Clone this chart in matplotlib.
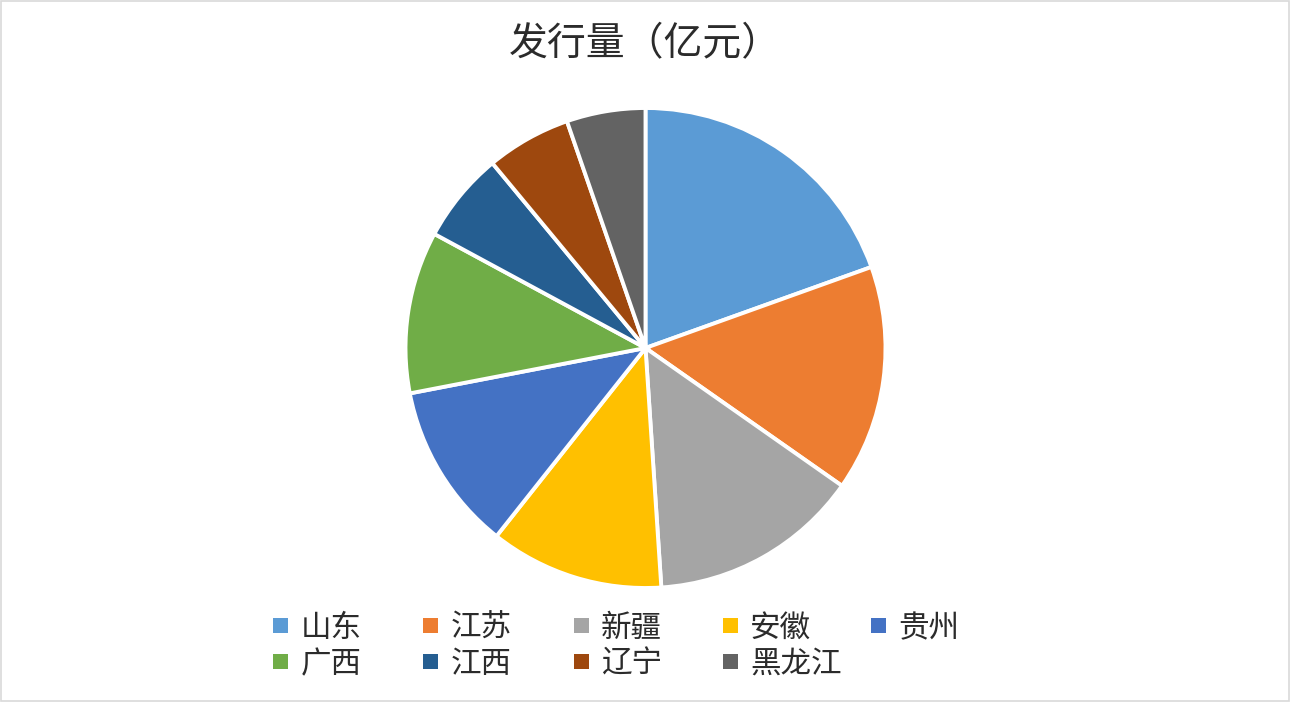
import matplotlib
matplotlib.use("Agg")
import matplotlib.pyplot as plt
from matplotlib.patches import Rectangle

plt.rcParams['font.family'] = ['Noto Sans CJK SC', 'DejaVu Sans']

title = "发行量（亿元）"
regions = ["山东", "江苏", "新疆", "安徽", "贵州", "广西", "江西", "辽宁", "黑龙江"]
values = [19.5, 15.2, 14.2, 11.7, 11.3, 10.9, 6.1, 5.7, 5.3]
colors = ["#5B9BD5", "#ED7D31", "#A5A5A5", "#FFC000", "#4472C4",
          "#70AD47", "#255E91", "#9E480E", "#636363"]

W, H = 1290, 702
fig = plt.figure(figsize=(W / 100, H / 100), dpi=100)
fig.patch.set_facecolor("white")

# pie axes: centre (645.5, 348) px, radius 240 px
cx, cy, r = 645.5, 348, 240
ax = fig.add_axes([(cx - r) / W, (H - cy - r) / H, 2 * r / W, 2 * r / H])
ax.pie(values, colors=colors, startangle=90, counterclock=False, radius=1,
       wedgeprops=dict(edgecolor="white", linewidth=2.8))
ax.set_xlim(-1.0, 1.0)
ax.set_ylim(-1.0, 1.0)
ax.set_aspect("equal")
ax.axis("off")

fig.text(645 / W, 1 - 44 / H, title, ha="center", va="center",
         fontsize=28, color="#2b2b2b")

# legend: two rows, five columns
col_x = [280.5, 430.5, 581, 730, 878.7]
row_y = [625, 661]
msz = 15
for i, (lab, col) in enumerate(zip(regions, colors)):
    rr, cc = divmod(i, 5)
    mx, my = col_x[cc], row_y[rr]
    fig.patches.append(Rectangle(((mx - msz / 2) / W, 1 - (my + msz / 2) / H),
                                 msz / W, msz / H, transform=fig.transFigure,
                                 facecolor=col, edgecolor="none"))
    fig.text((mx + 20) / W, 1 - my / H, lab, ha="left", va="center_baseline",
             fontsize=22, color="#2b2b2b")

# faint outer border
fig.patches.append(Rectangle((0.0005, 0.001), 0.999, 0.998, transform=fig.transFigure,
                             facecolor="none", edgecolor="#d9d9d9", linewidth=1.2))

fig.savefig("out.png", dpi=100, facecolor=fig.get_facecolor())
